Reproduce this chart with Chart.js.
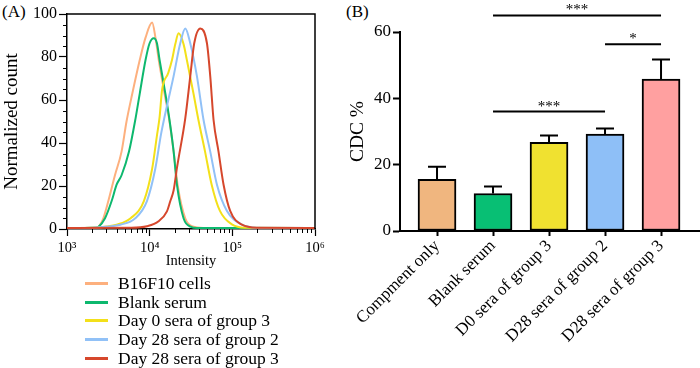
<!DOCTYPE html>
<html><head><meta charset="utf-8">
<script src="https://cdn.jsdelivr.net/npm/chart.js@4.4.0/dist/chart.umd.min.js"></script>
<style>
body{margin:0;width:700px;height:368px;overflow:hidden;background:#fff;position:relative;font-family:'Liberation Serif','Times New Roman',serif;color:#000}
#ca{position:absolute;left:0;top:0}
#cb{position:absolute;left:340px;top:0}
.lab{position:absolute;font-size:17px;line-height:17px}
#legend{position:absolute;left:85px;top:274px}
.row{height:18.75px;display:flex;align-items:center;font-size:17.5px;white-space:nowrap}
.sw{width:23px;height:3px;margin-right:10px}
</style></head><body>
<div class="lab" style="left:2px;top:3px">(A)</div>
<div class="lab" style="left:346px;top:3px">(B)</div>
<canvas id="ca" width="330" height="274"></canvas>
<canvas id="cb" width="360" height="368"></canvas>
<div id="legend"></div>
<script>
// ---------- Panel A data ----------
const seriesNames = ['B16F10 cells','Blank serum','Day 0 sera of group 3','Day 28 sera of group 2','Day 28 sera of group 3'];
const seriesColors = ['#FDB07E','#0DB86E','#F3E01A','#91C1F7','#D6472C'];
const xMajorTicks = [1000, 10000, 100000, 1000000];
const xTickLabels = ['10\u00B3','10\u2074','10\u2075','10\u2076'];
const yMajorTicks = [0, 20, 40, 60, 80, 100];

const b16f10Intensity = [1000, 2300, 2512, 2754, 3162, 3802, 4571, 5248, 6166, 7586, 8913, 10715, 11749, 12882, 15136, 17378, 19498, 21878, 26915, 33113, 44668, 1000000];
const b16f10Count     = [0.5, 0.6, 2, 5, 13, 25, 36, 50, 63, 78.6, 89, 96, 89, 78.6, 63, 50, 36, 20, 5, 1.2, 0.5, 0.5];

const blankIntensity = [1000, 2188, 2399, 2884, 3467, 3981, 4571, 5623, 6761, 7586, 8913, 9977, 11220, 12246, 13183, 15488, 17378, 19498, 21380, 25704, 31623, 37154, 1000000];
const blankCount     = [0.5, 0.6, 1, 5, 13, 20.6, 25, 36, 51.6, 63, 78.6, 86.4, 88.7, 86.4, 78.6, 63, 50.7, 36, 20.6, 5, 1, 0.5, 0.5];

const day0g3Intensity = [1000, 2000, 3000, 3981, 5888, 8511, 10715, 12303, 13183, 14125, 16788, 18621, 20417, 22387, 25704, 28184, 33884, 38905, 46774, 56234, 70795, 100000, 141254, 1000000];
const day0g3Count     = [0.5, 0.6, 1.2, 2, 5, 13, 28, 44, 52, 64.7, 72.6, 78.6, 86, 91, 86, 78.6, 63, 50.7, 36, 20.6, 8.4, 2, 0.6, 0.5];

const day28g2Intensity = [1000, 2000, 3200, 4416, 6699, 9268, 11695, 13709, 15031, 19454, 23442, 26977, 30974, 37325, 44875, 54075, 65163, 86096, 130617, 199526, 1000000];
const day28g2Count     = [0.5, 0.6, 1.2, 2, 5, 13, 28, 44, 51.6, 71, 86.4, 93.3, 86.4, 71, 50.7, 36, 20.6, 8.4, 2, 0.6, 0.5];

const day28g3Intensity = [1000, 6000, 9268, 12823, 16180, 17783, 19498, 21380, 26977, 30974, 34594, 40926, 49317, 54075, 59292, 68077, 78343, 94189, 130617, 199526, 1000000];
const day28g3Count     = [0.5, 0.6, 1.3, 3.6, 8.2, 13, 18, 28.4, 51.6, 71, 86.4, 93.3, 86.4, 71, 50.7, 36, 20.6, 8.4, 2, 0.6, 0.5];

const seriesX = [b16f10Intensity, blankIntensity, day0g3Intensity, day28g2Intensity, day28g3Intensity];
const seriesY = [b16f10Count, blankCount, day0g3Count, day28g2Count, day28g3Count];

// ---------- Panel B data ----------
const barCategories = ['Compment only','Blank serum','D0 sera of group 3','D28 sera of group 2','D28 sera of group 3'];
const cdcMean = [15.6, 11.3, 26.7, 29.2, 45.8];
const cdcErr  = [3.8, 2.1, 2.1, 1.7, 5.9];
const barColors = ['#F0B67F','#08BF74','#F0E130','#8EBFF7','#FFA0A0'];
const bTicks = [0, 20, 40, 60];
const sigFrom  = [1, 3, 1];
const sigTo    = [4, 4, 3];
const sigLevel = [65, 56.3, 36];
const sigText  = ['***', '*', '***'];

const SERIF = 'Liberation Serif';
const f = (size) => ({family: SERIF, size: size});
Chart.defaults.font.family = SERIF;
Chart.defaults.color = '#000';

// legend (HTML)
const lg = document.getElementById('legend');
seriesNames.forEach((n, i) => {
  const r = document.createElement('div'); r.className = 'row';
  const s = document.createElement('div'); s.className = 'sw'; s.style.background = seriesColors[i];
  const t = document.createElement('span'); t.textContent = n;
  r.appendChild(s); r.appendChild(t); lg.appendChild(r);
});

const frameA = {
  id: 'frameA',
  afterDraw(chart) {
    const {ctx, chartArea: a, scales: {x, y}} = chart;
    ctx.save();
    ctx.strokeStyle = '#000';
    ctx.lineWidth = 1.5;
    ctx.beginPath();
    ctx.moveTo(a.left, a.top); ctx.lineTo(a.right, a.top); ctx.lineTo(a.right, a.bottom);
    ctx.stroke();
    ctx.lineWidth = 1;
    ctx.beginPath();
    for (let e = 3; e < 6; e++) for (let k = 2; k < 10; k++) {
      const px = Math.round(x.getPixelForValue(k * Math.pow(10, e))) + 0.5;
      ctx.moveTo(px, a.bottom); ctx.lineTo(px, a.bottom + 4);
    }
    for (let v = 5; v < 100; v += 5) if (v % 20) {
      const py = Math.round(y.getPixelForValue(v)) + 0.5;
      ctx.moveTo(a.left - 4, py); ctx.lineTo(a.left, py);
    }
    ctx.stroke();
    ctx.restore();
  }
};

new Chart(document.getElementById('ca'), {
  type: 'line',
  data: {
    datasets: seriesNames.map((n, i) => ({
      label: n,
      data: seriesX[i].map((v, j) => ({x: v, y: seriesY[i][j]})),
      borderColor: seriesColors[i],
      borderWidth: 2,
      pointRadius: 0,
      fill: false,
      cubicInterpolationMode: 'monotone',
      order: 5 - i
    }))
  },
  options: {
    responsive: false, animation: false, devicePixelRatio: 1,
    layout: {padding: {top: 14, right: 15, left: 0, bottom: 0}},
    plugins: {legend: {display: false}, tooltip: {enabled: false}},
    scales: {
      x: {
        type: 'logarithmic', min: 1000, max: 1000000,
        afterBuildTicks: s => { s.ticks = xMajorTicks.map(v => ({value: v})); },
        afterFit: s => { s.height = 45; },
        border: {color: '#000', width: 1.5},
        grid: {drawOnChartArea: false, color: '#000', tickLength: 7, tickWidth: 1.2},
        ticks: {autoSkip: false, maxRotation: 0, color: '#000', font: f(14.5), padding: 3,
                callback: (v, i) => xTickLabels[i]},
        title: {display: true, text: 'Intensity', color: '#000', font: f(14.5), padding: {top: 0, bottom: 4.5}}
      },
      y: {
        min: 0, max: 100,
        afterBuildTicks: s => { s.ticks = yMajorTicks.map(v => ({value: v})); },
        afterFit: s => { s.width = 67; },
        border: {color: '#000', width: 1.5},
        grid: {drawOnChartArea: false, color: '#000', tickLength: 8, tickWidth: 1.2},
        ticks: {color: '#000', font: f(16), padding: 2},
        title: {display: true, text: 'Normalized count', color: '#000', font: f(19), padding: {top: 1, bottom: 0}}
      }
    }
  },
  plugins: [frameA]
});

const errPlugin = {
  id: 'errBars',
  afterDatasetsDraw(chart) {
    const {ctx, scales: {x, y}} = chart;
    ctx.save();
    ctx.strokeStyle = '#000'; ctx.lineWidth = 2;
    ctx.beginPath();
    cdcMean.forEach((m, i) => {
      const px = x.getPixelForValue(i);
      const y0 = y.getPixelForValue(m), y1 = y.getPixelForValue(m + cdcErr[i]);
      ctx.moveTo(px, y0); ctx.lineTo(px, y1);
      ctx.moveTo(px - 9, y1); ctx.lineTo(px + 9, y1);
    });
    ctx.stroke();
    ctx.restore();
  }
};
const sigPlugin = {
  id: 'sig',
  afterDraw(chart) {
    const {ctx, scales: {x, y}} = chart;
    ctx.save();
    ctx.strokeStyle = '#000'; ctx.fillStyle = '#000'; ctx.lineWidth = 2;
    ctx.font = "15px 'Liberation Serif', serif";
    ctx.textAlign = 'center'; ctx.textBaseline = 'alphabetic';
    sigLevel.forEach((lv, i) => {
      const py = y.getPixelForValue(lv);
      const x0 = x.getPixelForValue(sigFrom[i]), x1 = x.getPixelForValue(sigTo[i]);
      ctx.beginPath(); ctx.moveTo(x0, py); ctx.lineTo(x1, py); ctx.stroke();
      ctx.fillText(sigText[i], (x0 + x1) / 2, py - 1);
    });
    ctx.restore();
  }
};

new Chart(document.getElementById('cb'), {
  type: 'bar',
  data: {
    datasets: [{
      data: cdcMean.map((v, i) => ({x: i, y: v})),
      backgroundColor: barColors,
      borderColor: '#000', borderWidth: 2, borderSkipped: false,
      barThickness: 38
    }]
  },
  options: {
    responsive: false, animation: false, devicePixelRatio: 1,
    layout: {padding: {top: 32, right: 1, left: 0, bottom: 0}},
    plugins: {legend: {display: false}, tooltip: {enabled: false}},
    scales: {
      x: {
        type: 'linear', offset: false, min: -0.661, max: 4.678,
        afterBuildTicks: s => { s.ticks = barCategories.map((c, i) => ({value: i})); },
        afterFit: s => { s.height = 137; },
        border: {color: '#000', width: 2},
        grid: {offset: false, drawOnChartArea: false, color: '#000', tickLength: 5, tickWidth: 2},
        ticks: {autoSkip: false, minRotation: 45, maxRotation: 45, color: '#000', font: f(17), padding: 0,
                callback: (v, i) => barCategories[i]}
      },
      y: {
        min: 0, max: 60,
        afterBuildTicks: s => { s.ticks = bTicks.map(v => ({value: v})); },
        afterFit: s => { s.width = 60; },
        border: {color: '#000', width: 2},
        grid: {drawOnChartArea: false, color: '#000', tickLength: 7, tickWidth: 2},
        ticks: {color: '#000', font: f(17), padding: 2},
        title: {display: true, text: 'CDC %', color: '#000', font: f(19.5), padding: {top: 6, bottom: 0}}
      }
    }
  },
  plugins: [errPlugin, sigPlugin]
});
</script>
</body></html>
